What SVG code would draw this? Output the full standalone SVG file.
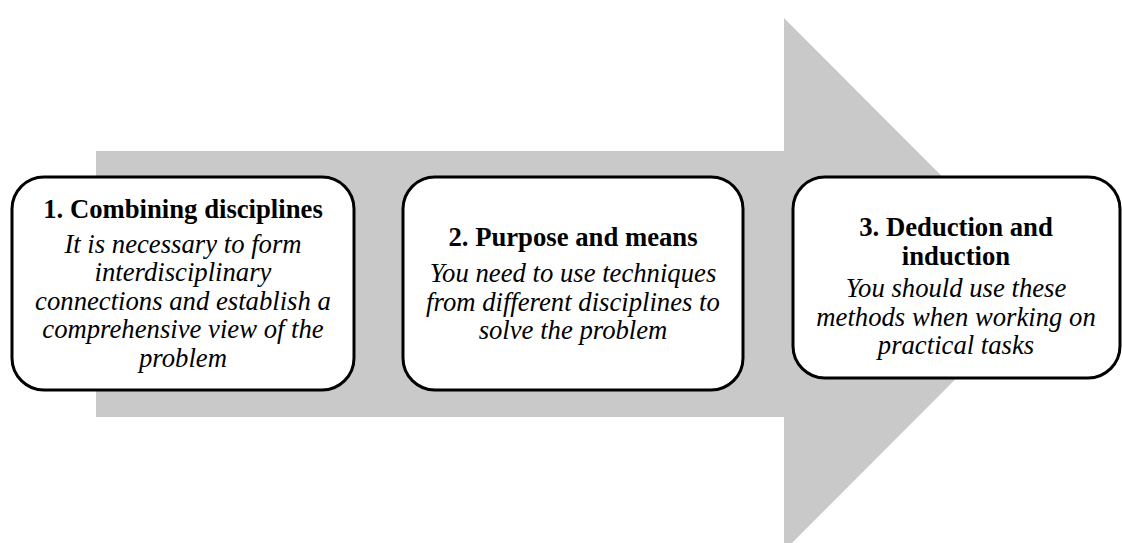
<svg xmlns="http://www.w3.org/2000/svg" width="1122" height="543" viewBox="0 0 1122 543">
<style>
.box{fill:#ffffff;stroke:#000000;stroke-width:3}
.t{font-family:"Liberation Serif","Times New Roman",serif;font-size:26.7px;fill:#000000;text-anchor:middle}
.b{font-weight:bold}
.i{font-style:italic}
</style>
<rect width="1122" height="543" fill="#ffffff"/>
<g id="arrow">
<polygon points="96,151 784,151 784,18 1050,284.5 784,551 784,417 96,417" fill="#c9c9c9"/>
</g>
<g id="connectors"></g>
<g id="node1">
<rect class="box" x="12" y="177" width="342" height="213" rx="32" ry="32"/>
<text class="t b" x="183" y="218">1. Combining disciplines</text>
<text class="t i" x="183" y="252.5">It is necessary to form</text>
<text class="t i" x="183" y="281">interdisciplinary</text>
<text class="t i" x="183" y="309.5">connections and establish a</text>
<text class="t i" x="183" y="338">comprehensive view of the</text>
<text class="t i" x="183" y="366.5">problem</text>
</g>
<g id="node2">
<rect class="box" x="403" y="177" width="340" height="213" rx="32" ry="32"/>
<text class="t b" x="573" y="246">2. Purpose and means</text>
<text class="t i" x="573" y="282">You need to use techniques</text>
<text class="t i" x="573" y="310.5">from different disciplines to</text>
<text class="t i" x="573" y="339">solve the problem</text>
</g>
<g id="node3">
<rect class="box" x="793" y="177" width="327" height="201" rx="32" ry="32"/>
<text class="t b" x="956" y="236">3. Deduction and</text>
<text class="t b" x="956" y="264.5">induction</text>
<text class="t i" x="956" y="297">You should use these</text>
<text class="t i" x="956" y="325.5">methods when working on</text>
<text class="t i" x="956" y="354">practical tasks</text>
</g>
</svg>
